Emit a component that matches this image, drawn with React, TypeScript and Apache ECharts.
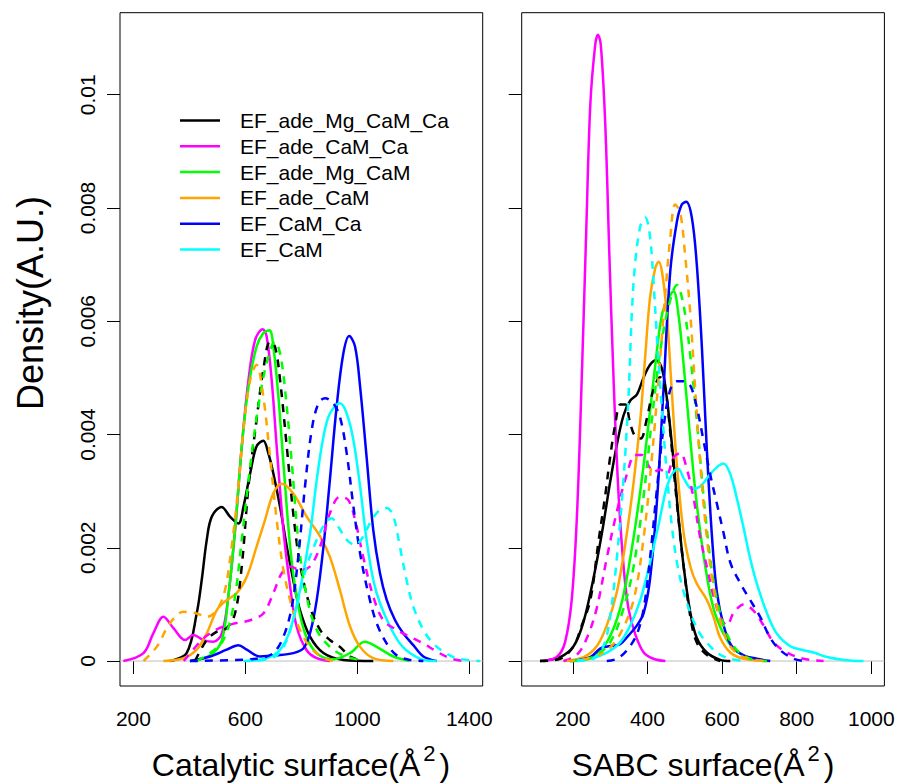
import React, { useEffect, useRef } from "react";
import * as echarts from "echarts";

const GROUPS = ["EF_ade_Mg_CaM_Ca", "EF_ade_CaM_Ca", "EF_ade_Mg_CaM", "EF_ade_CaM", "EF_CaM_Ca", "EF_CaM"];
const COLORS = ["#000000", "#FF00FF", "#00FF00", "#FFA500", "#0000FF", "#00FFFF"];

const CAT_X_TICKS = [200, 600, 1000, 1400];
const SABC_X_TICKS = [200, 400, 600, 800, 1000];
const Y_TICKS = [0, 0.002, 0.004, 0.006, 0.008, 0.01];
const CAT_X_RANGE = [152, 1448];
const SABC_X_RANGE = [63, 1035];
const Y_RANGE = [-0.000441, 0.011448];

// ---------- Catalytic surface, solid ----------
const catMgCaMCa = [[330,0],[390,0.00014],[426,0.00084],[444,0.00143],[462,0.00214],[480,0.00255],[515,0.00272],[545,0.00255],[575,0.00243],[593,0.00272],[617,0.00331],[640,0.00379],[664,0.00389],[682,0.00367],[700,0.00331],[724,0.00272],[748,0.00202],[771,0.00143],[795,0.0009],[831,0.00043],[879,0.00014],[950,0.00002],[1057,0]];
const catCaMCa = [[164,0],[236,0.00014],[271,0.00049],[307,0.00078],[343,0.00058],[385,0.00037],[414,0.00046],[450,0.00037],[486,0.00034],[516,0.00049],[539,0.00114],[563,0.00231],[587,0.00378],[611,0.00496],[635,0.00567],[662,0.00586],[676,0.00573],[694,0.00496],[712,0.00378],[736,0.00231],[760,0.00131],[783,0.00061],[819,0.00019],[855,0.00005],[902,0]];
const catMgCaM = [[402,0],[474,0.0001],[516,0.00037],[539,0.00114],[563,0.00231],[587,0.00378],[611,0.00484],[640,0.00555],[664,0.00579],[686,0.00584],[700,0.00555],[718,0.00467],[736,0.00349],[760,0.00202],[783,0.00114],[813,0.00049],[855,0.00014],[914,0.00003],[974,0.00014],[1027,0.00034],[1069,0.00025],[1129,0.00008],[1188,0]];
const catCaM = [[307,0],[379,0.00005],[426,0.0002],[462,0.00049],[498,0.0009],[527,0.00105],[569,0.0012],[605,0.00149],[640,0.00202],[670,0.00249],[700,0.00296],[730,0.00313],[771,0.00296],[819,0.00255],[867,0.0022],[902,0.00184],[938,0.00125],[974,0.00061],[1010,0.00025],[1057,0.00005],[1129,0]];
const catEfCaMCa = [[402,0],[474,0.00008],[533,0.0002],[575,0.00028],[605,0.0002],[652,0.00008],[712,0.0001],[771,0.00014],[807,0.00022],[831,0.00049],[855,0.00108],[879,0.00202],[902,0.0032],[926,0.00449],[950,0.00543],[971,0.00574],[992,0.00555],[1010,0.00484],[1033,0.00361],[1057,0.00231],[1081,0.00155],[1105,0.00108],[1135,0.00072],[1164,0.00049],[1200,0.00028],[1236,0.00008],[1283,0]];
const catEfCaM = [[605,0],[676,0.00005],[724,0.0002],[760,0.00055],[795,0.00125],[831,0.00225],[855,0.0032],[879,0.00396],[902,0.00437],[938,0.00455],[962,0.00437],[986,0.0039],[1010,0.00308],[1033,0.00214],[1057,0.00143],[1081,0.00102],[1117,0.00061],[1152,0.00031],[1188,0.00014],[1236,0.00002],[1283,0]];

// ---------- Catalytic surface, dashed ----------
const catMgCaMCaB = [[420,0],[462,0.00037],[498,0.00052],[533,0.00058],[563,0.00084],[587,0.00167],[611,0.00308],[640,0.00426],[664,0.00514],[688,0.00564],[706,0.00555],[724,0.00496],[748,0.00378],[771,0.00261],[795,0.00172],[831,0.00096],[867,0.00055],[902,0.00037],[938,0.00025],[974,0.00008],[1021,0]];
const catCaMCaB = [[380,0],[438,0.00034],[474,0.00049],[521,0.00061],[569,0.00067],[617,0.00072],[664,0.00084],[700,0.0012],[730,0.00155],[760,0.00167],[795,0.00161],[831,0.00167],[867,0.00202],[902,0.00261],[938,0.0029],[968,0.00284],[992,0.00249],[1021,0.00184],[1057,0.00114],[1093,0.00072],[1141,0.00055],[1188,0.00043],[1236,0.00031],[1283,0.00017],[1331,0.00005],[1379,0]];
const catMgCaMB = [[426,0],[474,0.00014],[521,0.00037],[557,0.00096],[587,0.00214],[617,0.00343],[646,0.00449],[676,0.00526],[706,0.00564],[724,0.00543],[742,0.00478],[766,0.00349],[789,0.00214],[819,0.00114],[855,0.00055],[902,0.00025],[950,0.0001],[1021,0]];
const catCaMB = [[236,0],[283,0.00025],[331,0.00067],[379,0.00087],[426,0.00084],[462,0.00078],[498,0.0009],[527,0.00125],[551,0.00202],[575,0.00308],[593,0.00408],[617,0.00496],[640,0.00523],[664,0.00467],[688,0.00361],[712,0.00249],[736,0.00161],[766,0.00096],[795,0.00055],[831,0.00025],[879,0.00005],[926,0]];
const catEfCaMCaB = [[402,0],[569,0.00002],[652,0.00005],[700,0.00014],[736,0.00043],[766,0.00096],[789,0.00184],[813,0.00308],[837,0.00408],[861,0.00455],[885,0.00464],[914,0.00455],[938,0.00431],[962,0.00367],[986,0.00273],[1010,0.0019],[1039,0.0012],[1069,0.00067],[1105,0.00031],[1141,0.0001],[1188,0.00002],[1236,0]];
const catEfCaMB = [[593,0],[664,0.00002],[712,0.0001],[748,0.00037],[783,0.00096],[819,0.00167],[855,0.00214],[885,0.00243],[908,0.00252],[932,0.00237],[962,0.00214],[992,0.00205],[1021,0.0022],[1051,0.00249],[1081,0.00267],[1105,0.0027],[1129,0.00255],[1152,0.00202],[1176,0.00143],[1200,0.00096],[1236,0.00055],[1271,0.00031],[1307,0.00017],[1355,0.00005],[1438,0]];

// ---------- SABC surface, solid ----------
const sabcMgCaMCa = [[112,0],[166,0.00007],[202,0.00026],[229,0.0007],[255,0.00145],[278,0.00226],[300,0.00316],[318,0.00382],[336,0.00434],[354,0.0046],[372,0.00471],[390,0.00501],[407,0.00523],[423,0.00531],[439,0.00516],[452,0.00464],[470,0.00353],[483,0.00256],[497,0.00167],[515,0.00085],[532,0.00041],[559,0.00015],[595,0.00002],[622,0]];
const sabcCaMCa = [[121,0],[157,0.00007],[179,0.00033],[197,0.00108],[211,0.00256],[224,0.00501],[236,0.00761],[247,0.00984],[260,0.01088],[267,0.01106],[275,0.01088],[287,0.00947],[298,0.00716],[309,0.00501],[322,0.00301],[336,0.00167],[349,0.00093],[367,0.00048],[390,0.00015],[416,0.00004],[448,0]];
const sabcMgCaM = [[193,0],[247,0.00007],[291,0.00033],[327,0.00093],[354,0.00182],[381,0.00301],[403,0.00419],[421,0.00523],[439,0.00612],[457,0.00642],[470,0.00653],[483,0.00612],[497,0.00523],[515,0.0039],[532,0.00278],[555,0.00167],[577,0.00093],[604,0.00048],[631,0.00022],[667,0.00007],[711,0]];
const sabcCaM = [[175,0],[229,0.00007],[264,0.00026],[291,0.00063],[318,0.00122],[340,0.00204],[363,0.00316],[381,0.00427],[394,0.00538],[407,0.00642],[421,0.00694],[430,0.00705],[439,0.00687],[452,0.00612],[465,0.00479],[479,0.00345],[497,0.00226],[515,0.00167],[532,0.00137],[559,0.00108],[577,0.00078],[595,0.00041],[622,0.00015],[658,0.00004],[729,0]];
const sabcEfCaMCa = [[193,0],[247,0.00007],[273,0.00022],[296,0.00026],[327,0.0003],[349,0.00045],[372,0.00063],[390,0.00085],[407,0.00145],[425,0.00278],[443,0.00479],[461,0.00687],[479,0.00776],[492,0.00806],[504,0.00811],[519,0.00783],[532,0.00702],[546,0.00553],[559,0.00375],[573,0.00219],[586,0.00122],[604,0.00063],[626,0.00026],[658,0.0001],[693,0.00004],[729,0]];
const sabcEfCaM = [[193,0],[247,0.00004],[291,0.00015],[327,0.00033],[354,0.00063],[381,0.00108],[407,0.00174],[430,0.00241],[452,0.00308],[470,0.00334],[483,0.00339],[497,0.00323],[519,0.00304],[541,0.00308],[568,0.0033],[591,0.00345],[604,0.00349],[622,0.0033],[640,0.00286],[658,0.00234],[675,0.00182],[693,0.00137],[720,0.00085],[747,0.00048],[783,0.00026],[818,0.00019],[845,0.00015],[881,0.00007],[926,0.00002],[979,0]];

// ---------- SABC surface, dashed ----------
const sabcMgCaMCaB = [[112,0],[166,0.00004],[202,0.00026],[224,0.00063],[247,0.00108],[269,0.00212],[287,0.00293],[300,0.0036],[314,0.00419],[327,0.00453],[340,0.00453],[354,0.00419],[367,0.00397],[382,0.00393],[398,0.00427],[416,0.00479],[434,0.00501],[448,0.00479],[461,0.00405],[479,0.00278],[497,0.00167],[515,0.00078],[532,0.00033],[559,0.00011],[595,0]];
const sabcCaMCaB = [[175,0],[211,0.00011],[238,0.00041],[264,0.00093],[291,0.00182],[318,0.00264],[345,0.0033],[367,0.00364],[385,0.00364],[403,0.00345],[416,0.00334],[434,0.00338],[452,0.0033],[470,0.0036],[488,0.00367],[506,0.00338],[524,0.00286],[541,0.00219],[559,0.00167],[577,0.00115],[595,0.00078],[613,0.00063],[631,0.00085],[658,0.001],[684,0.00089],[711,0.00063],[738,0.00033],[774,0.00015],[818,0.00004],[872,0]];
const sabcMgCaMB = [[193,0],[255,0.00007],[300,0.00033],[336,0.00093],[363,0.00167],[390,0.00293],[412,0.00427],[434,0.00546],[457,0.00627],[479,0.00664],[497,0.00627],[515,0.00538],[532,0.00427],[550,0.00293],[568,0.00182],[586,0.00108],[613,0.00048],[640,0.00019],[675,0.00004],[720,0]];
const sabcCaMB = [[184,0],[238,0.00004],[291,0.00019],[327,0.00048],[363,0.00108],[390,0.00219],[412,0.0036],[430,0.00501],[448,0.0065],[461,0.00746],[474,0.00806],[488,0.00791],[501,0.00716],[515,0.00612],[528,0.00479],[541,0.00353],[559,0.00219],[577,0.0013],[595,0.00071],[622,0.00026],[658,0.00007],[711,0]];
const sabcEfCaMCaB = [[291,0],[318,0.00004],[345,0.00019],[372,0.00048],[390,0.00093],[407,0.00182],[425,0.00301],[443,0.00412],[461,0.00479],[479,0.00494],[497,0.00494],[515,0.00486],[532,0.00449],[550,0.0039],[568,0.0033],[586,0.00278],[604,0.00226],[622,0.00174],[649,0.00137],[675,0.00108],[702,0.00078],[729,0.00041],[756,0.00019],[792,0.00004],[818,0]];
const sabcEfCaMB = [[211,0],[255,0.00004],[282,0.00026],[300,0.00078],[318,0.00182],[336,0.00323],[349,0.00464],[358,0.00612],[367,0.00702],[381,0.00768],[394,0.00783],[406,0.00754],[416,0.00672],[425,0.00575],[439,0.00442],[452,0.0033],[465,0.00241],[479,0.00174],[497,0.00122],[519,0.00078],[541,0.00048],[568,0.00026],[595,0.00011],[622,0.00004],[658,0]];

const CAT_SOLID = [catMgCaMCa, catCaMCa, catMgCaM, catCaM, catEfCaMCa, catEfCaM];
const CAT_DASHED = [catMgCaMCaB, catCaMCaB, catMgCaMB, catCaMB, catEfCaMCaB, catEfCaMB];
const SABC_SOLID = [sabcMgCaMCa, sabcCaMCa, sabcMgCaM, sabcCaM, sabcEfCaMCa, sabcEfCaM];
const SABC_DASHED = [sabcMgCaMCaB, sabcCaMCaB, sabcMgCaMB, sabcCaMB, sabcEfCaMCaB, sabcEfCaMB];

const FONT = "'Liberation Sans', Arial, Helvetica, sans-serif";

function makeSeries(panel: number, sets: number[][][], dashed: boolean) {
  return sets.map((data, i) => ({
    type: "line",
    name: GROUPS[i],
    xAxisIndex: panel,
    yAxisIndex: panel,
    data,
    smooth: 0.35,
    symbol: "none",
    showSymbol: false,
    clip: true,
    silent: true,
    itemStyle: { color: COLORS[i] },
    lineStyle: { color: COLORS[i], width: 2.5, type: dashed ? [8, 7] : "solid" },
  }));
}

function zeroLine(panel: number, range: number[]) {
  return {
    type: "line",
    name: "zero" + panel,
    xAxisIndex: panel,
    yAxisIndex: panel,
    data: [[range[0], 0], [range[1], 0]],
    symbol: "none",
    silent: true,
    z: 1,
    lineStyle: { color: "#BEBEBE", width: 1 },
    itemStyle: { color: "#BEBEBE" },
  };
}

function xAxis(grid: number, range: number[], ticks: number[]) {
  return {
    type: "value",
    gridIndex: grid,
    min: range[0],
    max: range[1],
    axisLine: { show: false },
    splitLine: { show: false },
    axisTick: { show: true, length: 13, lineStyle: { color: "#000", width: 1 }, customValues: ticks },
    axisLabel: {
      show: true,
      customValues: ticks,
      fontSize: 21,
      color: "#000",
      fontFamily: FONT,
      margin: 22,
      formatter: (v: number) => String(v),
    },
  };
}

function yAxis(grid: number, labels: boolean) {
  return {
    type: "value",
    gridIndex: grid,
    min: Y_RANGE[0],
    max: Y_RANGE[1],
    axisLine: { show: false },
    splitLine: { show: false },
    axisTick: { show: true, length: 13, lineStyle: { color: "#000", width: 1 }, customValues: Y_TICKS },
    axisLabel: {
      show: labels,
      customValues: Y_TICKS,
      rotate: 90,
      fontSize: 21,
      color: "#000",
      fontFamily: FONT,
      margin: 22,
      formatter: (v: number) => String(v),
    },
  };
}

function title(x: number, y: number, main: string) {
  return {
    type: "text",
    x,
    y,
    silent: true,
    style: {
      text: `{a|${main}}{s|2}{a|)}`,
      align: "center",
      verticalAlign: "middle",
      fill: "#000",
      rich: {
        a: { fontSize: 32, fontFamily: FONT, lineHeight: 45, fill: "#000" },
        s: { fontSize: 22, fontFamily: FONT, lineHeight: 22, verticalAlign: "top", fill: "#000", padding: [0, 4, 0, 3] },
      },
    },
  };
}

export default function App() {
  const ref = useRef<HTMLDivElement>(null);
  useEffect(() => {
    if (!ref.current) return;
    const chart = echarts.init(ref.current, null, { renderer: "svg" });
    const gridBox = { top: 12.7, height: 673.3, width: 362.7, show: true, borderColor: "#000", borderWidth: 1, backgroundColor: "transparent" };
    chart.setOption({
      animation: false,
      backgroundColor: "#ffffff",
      textStyle: { fontFamily: FONT },
      grid: [
        { ...gridBox, left: 120 },
        { ...gridBox, left: 521.7 },
      ],
      xAxis: [xAxis(0, CAT_X_RANGE, CAT_X_TICKS), xAxis(1, SABC_X_RANGE, SABC_X_TICKS)],
      yAxis: [yAxis(0, true), yAxis(1, false)],
      legend: {
        orient: "vertical",
        left: 180,
        top: 109.5,
        padding: 0,
        icon: "rect",
        itemWidth: 40,
        itemHeight: 2.5,
        itemGap: 3.8,
        selectedMode: false,
        data: GROUPS,
        textStyle: { fontSize: 21, color: "#000", fontFamily: FONT, lineHeight: 22, padding: [0, 0, 0, 15] },
      },
      graphic: [
        title(301, 765, "Catalytic surface(Å"),
        title(703, 765, "SABC surface(Å"),
        {
          type: "text",
          x: 30,
          y: 303,
          rotation: Math.PI / 2,
          silent: true,
          style: { text: "Density(A.U.)", align: "center", verticalAlign: "middle", fontSize: 36, fontFamily: FONT, fill: "#000" },
        },
      ],
      series: [
        zeroLine(0, CAT_X_RANGE),
        zeroLine(1, SABC_X_RANGE),
        ...makeSeries(0, CAT_SOLID, false),
        ...makeSeries(0, CAT_DASHED, true),
        ...makeSeries(1, SABC_SOLID, false),
        ...makeSeries(1, SABC_DASHED, true),
      ],
    });
    return () => chart.dispose();
  }, []);
  return <div ref={ref} style={{ position: "absolute", left: 0, top: 0, width: 898, height: 784 }} />;
}
